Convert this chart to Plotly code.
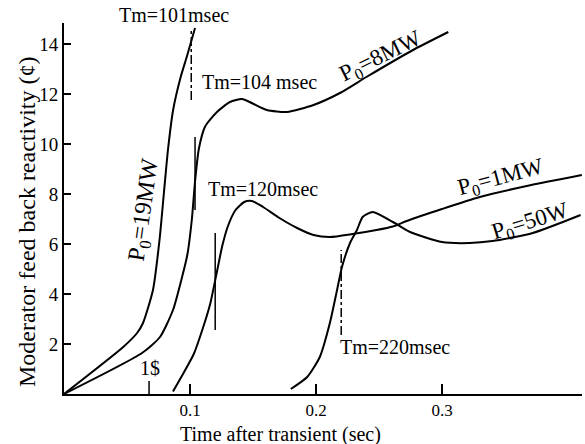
import plotly.graph_objects as go

# Moderator feedback reactivity (cents) vs time after transient (s)
t_19mw = [0, 0.047, 0.058, 0.0627, 0.0706, 0.0758, 0.0795, 0.0825, 0.0866, 0.0926, 0.0974, 0.104]
r_19mw = [0, 1.88, 2.44, 2.84, 4.16, 6.16, 8.16, 9.76, 11.36, 12.68, 13.48, 14.64]

t_8mw = [0, 0.0619, 0.0762, 0.0865, 0.0937, 0.098, 0.1015, 0.104, 0.107, 0.112, 0.1214,
         0.1317, 0.1413, 0.149, 0.161, 0.177, 0.198, 0.219, 0.240, 0.277, 0.305]
r_8mw = [0, 1.64, 2.28, 3.36, 4.68, 5.6, 7.0, 8.5, 9.8, 10.7, 11.28,
         11.68, 11.8, 11.64, 11.36, 11.28, 11.56, 12.04, 12.68, 13.76, 14.48]

t_1mw = [0.0865, 0.095, 0.103, 0.110, 0.116, 0.121, 0.1255, 0.130, 0.136, 0.143, 0.149,
         0.158, 0.171, 0.185, 0.198, 0.211, 0.229, 0.248, 0.261, 0.272, 0.30, 0.33, 0.37, 0.411]
r_1mw = [0.1, 0.85, 1.6, 2.6, 3.6, 4.8, 5.9, 6.7, 7.35, 7.68, 7.72,
         7.48, 7.04, 6.64, 6.36, 6.28, 6.4, 6.56, 6.70, 6.92, 7.4, 7.88, 8.35, 8.76]

t_50w = [0.180, 0.193, 0.203, 0.211, 0.2167, 0.2206, 0.227, 0.2325, 0.237, 0.245, 0.261,
         0.2746, 0.30, 0.322, 0.34, 0.372, 0.41]
r_50w = [0.2, 0.68, 1.48, 2.84, 4.16, 5.08, 6.04, 6.56, 7.08, 7.28, 6.88,
         6.48, 6.08, 6.04, 6.12, 6.44, 7.16]

# Tm markers (period marks): time in s, vertical extent in cents
tm_times = [0.101, 0.104, 0.120, 0.220]
tm_low = [11.76, 7.36, 2.56, 2.36]
tm_high = [14.64, 10.28, 6.44, 5.76]
tm_dash = ["dashdot", "solid", "solid", "dashdot"]

# prompt-critical (1$) marker time
dollar_t = 0.0675

x_ticks = [0.1, 0.2, 0.3]
y_ticks = [2, 4, 6, 8, 10, 12, 14]

FONT = "Liberation Serif, Times New Roman, serif"

fig = go.Figure()

for tx, ry in [(t_19mw, r_19mw), (t_8mw, r_8mw), (t_1mw, r_1mw), (t_50w, r_50w)]:
    fig.add_trace(go.Scatter(x=tx, y=ry, mode="lines",
                             line=dict(color="black", width=2, shape="spline", smoothing=0.6),
                             hoverinfo="skip", showlegend=False))

for t, lo, hi, d in zip(tm_times, tm_low, tm_high, tm_dash):
    fig.add_trace(go.Scatter(x=[t, t], y=[lo, hi], mode="lines",
                             line=dict(color="black", width=1.5, dash=d),
                             hoverinfo="skip", showlegend=False))

fig.add_trace(go.Scatter(x=[dollar_t, dollar_t], y=[0, 0.52], mode="lines",
                         line=dict(color="black", width=1.5),
                         hoverinfo="skip", showlegend=False))

# curve annotations in data coordinates: text, x, y, angle, size
labels = [
    ("Tm=104 msec", 0.1548, 12.48, 0, 20),
    ("Tm=120msec", 0.158, 8.2, 0, 20),
    ("Tm=220msec", 0.263, 1.88, 0, 20),
    ("1$", 0.0683, 1.04, 0, 20),
    ("P<sub>0</sub>=8MW", 0.2516, 13.48, -26, 23),
    ("P<sub>0</sub>=1MW", 0.347, 8.64, -15, 23),
    ("P<sub>0</sub>=50W", 0.3706, 6.88, -17, 23),
    ("P<sub>0</sub>=19MW", 0.0640, 7.36, -82, 24),
]
for text, x, y, ang, sz in labels:
    fig.add_annotation(x=x, y=y, text=text, showarrow=False, textangle=ang,
                       font=dict(family=FONT, size=sz, color="black"),
                       xanchor="center", yanchor="middle")

# label above the top of the frame
fig.add_annotation(xref="paper", yref="paper", x=0.2124, y=1.0216, text="Tm=101msec",
                   showarrow=False, font=dict(family=FONT, size=20, color="black"),
                   xanchor="center", yanchor="middle")

# axis titles
fig.add_annotation(xref="paper", yref="paper", x=0.417, y=-0.108,
                   text="Time after transient (sec)", showarrow=False,
                   font=dict(family=FONT, size=20, color="black"),
                   xanchor="center", yanchor="middle")
fig.add_annotation(xref="paper", yref="paper", x=-0.0714, y=0.4636,
                   text="Moderator feed back reactivity (¢)", showarrow=False, textangle=-90,
                   font=dict(family=FONT, size=24, color="black"),
                   xanchor="center", yanchor="middle")

fig.update_layout(
    width=585, height=444,
    margin=dict(l=64, r=3, t=23, b=50),
    paper_bgcolor="white", plot_bgcolor="white",
    font=dict(family=FONT, color="black"),
    xaxis=dict(range=[0, 0.4111], tickvals=x_ticks, ticktext=[str(v) for v in x_ticks],
               ticks="inside", ticklen=10, tickwidth=1.5, tickcolor="black",
               showline=True, linecolor="black", linewidth=2, showgrid=False, zeroline=False,
               tickfont=dict(family=FONT, size=17)),
    yaxis=dict(range=[0, 14.84], tickvals=y_ticks,
               ticks="inside", ticklen=7, tickwidth=1.5, tickcolor="black",
               showline=True, linecolor="black", linewidth=2, showgrid=False, zeroline=False,
               tickfont=dict(family=FONT, size=19)),
)

fig.write_html("out.html")
